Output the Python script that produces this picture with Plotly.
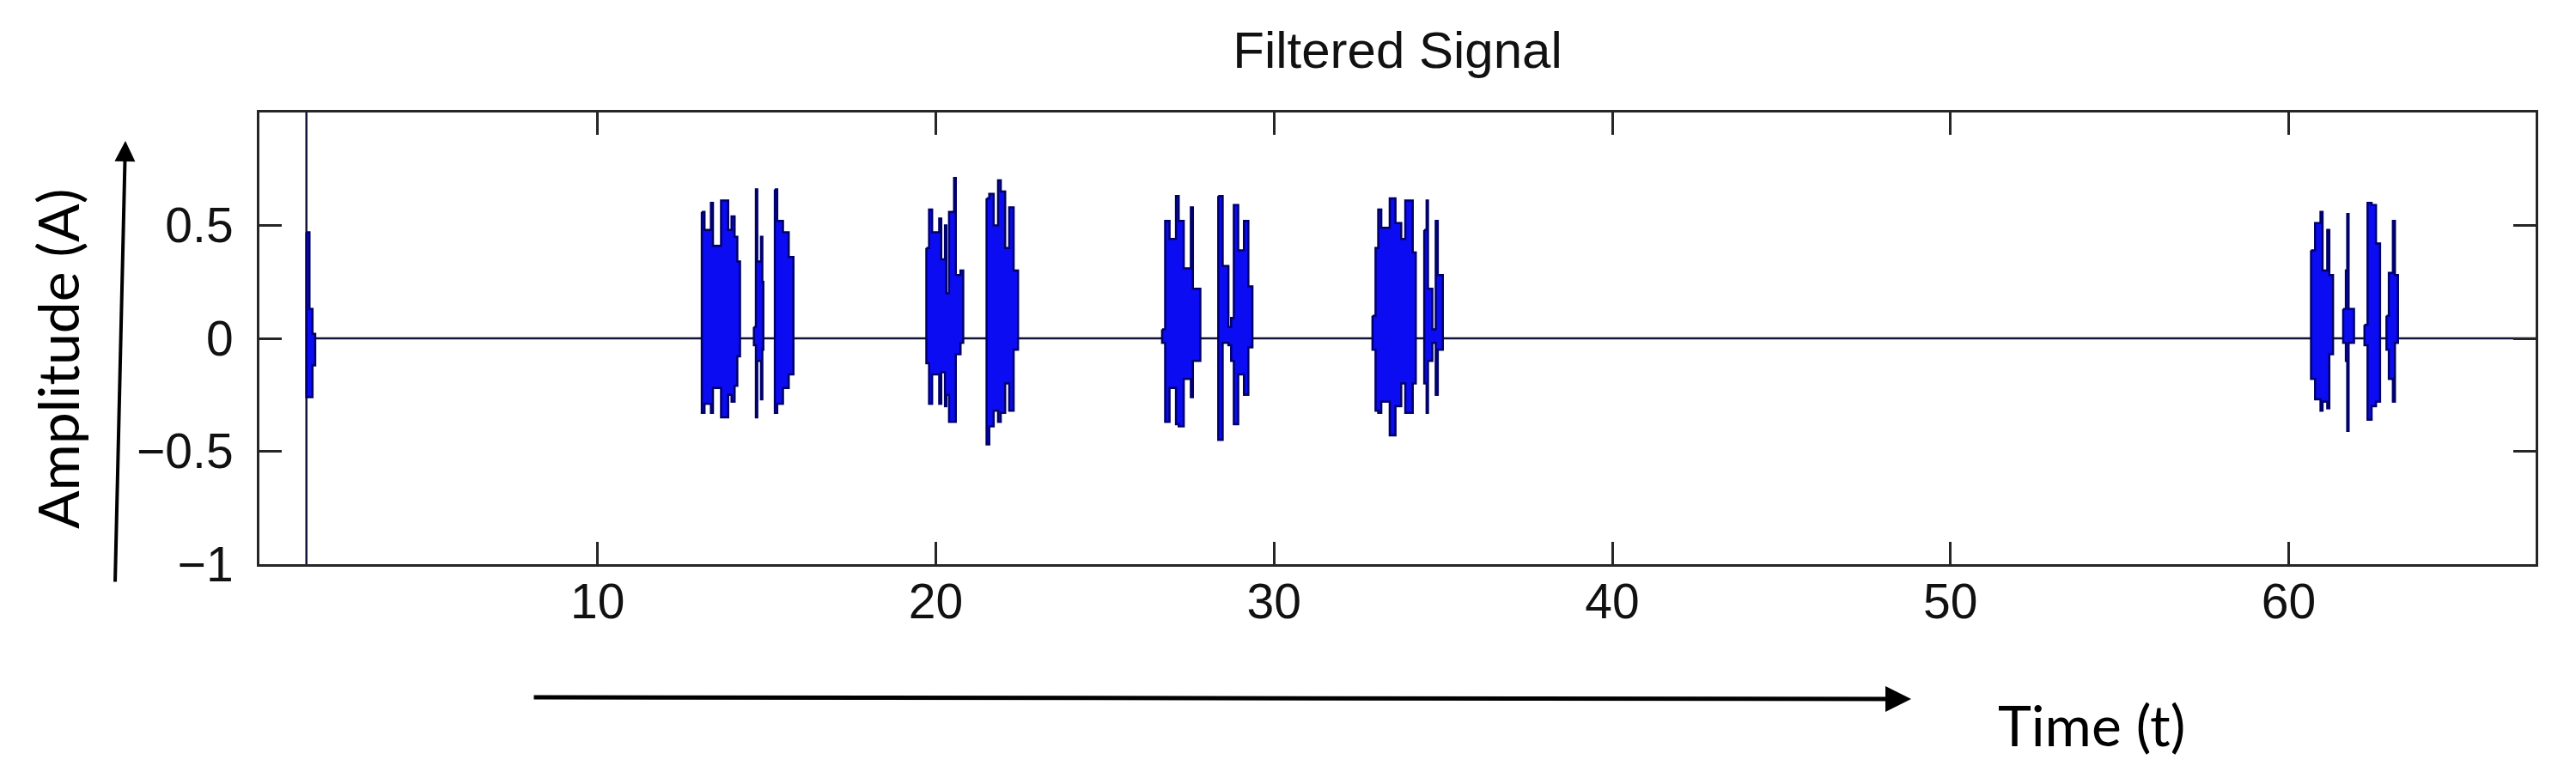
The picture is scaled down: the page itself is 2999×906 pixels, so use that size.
"""Filtered signal: bursts of a band-pass filtered recording"""
import plotly.graph_objects as go

# signal start / end and the start-up transient
t_start = 1.39
t_end = 67.3
transient_min = -1.0
transient_max = 1.0

# each burst: column edges (time), upper and lower envelope per column
bursts = {
    "P":  ([1.39, 1.48, 1.57, 1.65],
           [0.47, 0.13, 0.02],
           [-0.26, -0.26, -0.12]),
    "A1": ([13.08, 13.16, 13.35, 13.41, 13.65, 13.86, 13.96, 14.05, 14.13, 14.21],
           [0.56, 0.48, 0.60, 0.41, 0.61, 0.48, 0.54, 0.45, 0.34],
           [-0.33, -0.29, -0.33, -0.22, -0.35, -0.25, -0.28, -0.21, -0.08]),
    "A2": ([14.62, 14.68, 14.72, 14.83, 14.87, 14.90],
           [0.05, 0.66, 0.34, 0.45, 0.25],
           [-0.03, -0.35, -0.10, -0.27, -0.05]),
    "A3": ([15.24, 15.31, 15.48, 15.65, 15.79],
           [0.66, 0.52, 0.47, 0.36],
           [-0.33, -0.29, -0.22, -0.16]),
    "B1": ([19.72, 19.80, 19.89, 20.10, 20.16, 20.27, 20.31, 20.39, 20.54, 20.59, 20.73, 20.81],
           [0.40, 0.57, 0.47, 0.53, 0.35, 0.50, 0.20, 0.56, 0.71, 0.28, 0.30],
           [-0.11, -0.29, -0.16, -0.29, -0.15, -0.30, -0.25, -0.37, -0.37, -0.07, -0.02]),
    "B2": ([21.50, 21.58, 21.71, 21.84, 21.92, 22.05, 22.17, 22.30, 22.43],
           [0.62, 0.64, 0.50, 0.70, 0.65, 0.40, 0.58, 0.30],
           [-0.47, -0.39, -0.32, -0.37, -0.33, -0.20, -0.32, -0.05]),
    "C1": ([26.69, 26.78, 26.91, 27.10, 27.18, 27.33, 27.54, 27.60, 27.82],
           [0.04, 0.52, 0.44, 0.63, 0.52, 0.31, 0.58, 0.22],
           [-0.02, -0.37, -0.22, -0.38, -0.39, -0.18, -0.26, -0.10]),
    "C2": ([28.35, 28.48, 28.65, 28.73, 28.81, 28.94, 29.11, 29.24, 29.36],
           [0.63, 0.32, 0.05, 0.09, 0.59, 0.39, 0.52, 0.23],
           [-0.45, -0.02, -0.03, -0.10, -0.38, -0.16, -0.25, -0.04]),
    "D1": ([32.91, 33.00, 33.08, 33.17, 33.42, 33.59, 33.76, 33.88, 34.10, 34.19],
           [0.10, 0.40, 0.57, 0.49, 0.62, 0.51, 0.44, 0.61, 0.38],
           [-0.05, -0.32, -0.33, -0.28, -0.43, -0.30, -0.20, -0.33, -0.20]),
    "D2": ([34.44, 34.51, 34.55, 34.68, 34.78, 34.84, 34.99],
           [0.48, 0.61, 0.22, 0.04, 0.52, 0.28],
           [-0.20, -0.33, -0.10, -0.02, -0.25, -0.05]),
    "E1": ([60.66, 60.78, 60.94, 61.00, 61.14, 61.20, 61.31],
           [0.39, 0.51, 0.56, 0.30, 0.48, 0.28],
           [-0.18, -0.27, -0.32, -0.28, -0.31, -0.07]),
    "E2": ([61.61, 61.69, 61.73, 61.77, 61.93],
           [0.13, 0.30, 0.55, 0.13],
           [-0.02, -0.10, -0.41, -0.02]),
    "E3": ([62.24, 62.33, 62.45, 62.58, 62.70],
           [0.06, 0.60, 0.59, 0.42],
           [-0.03, -0.36, -0.30, -0.28]),
    "E4": ([62.89, 62.96, 63.08, 63.14, 63.23],
           [0.10, 0.29, 0.52, 0.28],
           [-0.05, -0.18, -0.28, -0.02]),
}

x_ticks = [10, 20, 30, 40, 50, 60]
y_ticks = [-1, -0.5, 0, 0.5]
y_tick_text = ["\u22121", "\u22120.5", "0", "0.5"]

LINE_DARK = "#14143a"
FILL_BLUE = "#0c0cf2"
OUTLINE = "#00006a"

W, H = 2999, 906
L, R, T, B = 294, 55, 123, 257


def px(x):
    return (x - L) / (W - L - R)


def py(y):
    return (H - B - y) / (H - T - B)


fig = go.Figure()

# baseline with start-up transient
fig.add_trace(go.Scatter(
    x=[t_start, t_start, t_start, t_end],
    y=[transient_min, transient_max, 0, 0],
    mode="lines",
    line=dict(color=LINE_DARK, width=2.5),
    hoverinfo="skip",
    showlegend=False,
))

# bursts drawn as stepped envelopes
for name, (edges, hi, lo) in bursts.items():
    xs, ys = [], []
    for i in range(len(hi)):
        xs += [edges[i], edges[i + 1]]
        ys += [hi[i], hi[i]]
    for i in reversed(range(len(lo))):
        xs += [edges[i + 1], edges[i]]
        ys += [lo[i], lo[i]]
    fig.add_trace(go.Scatter(
        x=xs + [xs[0]], y=ys + [ys[0]],
        mode="lines",
        fill="toself",
        fillcolor=FILL_BLUE,
        line=dict(color=OUTLINE, width=2.5),
        name=name,
        hoverinfo="skip",
        showlegend=False,
    ))

axis_common = dict(
    showline=True, linecolor="#262626", linewidth=3,
    mirror="ticks", ticks="inside", ticklen=26, tickwidth=3,
    tickcolor="#262626", showgrid=False, zeroline=False,
    tickfont=dict(family="Liberation Sans, Arial", size=57, color="#111111"),
)

fig.update_xaxes(range=[0, t_end], tickvals=x_ticks, ticklabelstandoff=-8,
                 **axis_common)
fig.update_yaxes(range=[-1, 1], tickvals=y_ticks, ticktext=y_tick_text,
                 ticklabelstandoff=16, **axis_common)

label_font = dict(family="Lato, Open Sans, sans-serif", size=66, color="#000000")

fig.update_layout(
    width=W, height=H,
    margin=dict(l=L, r=R, t=T, b=B),
    plot_bgcolor="white", paper_bgcolor="white",
    title=dict(text="Filtered Signal", x=0.5, xref="paper", xanchor="center",
               y=1 - 50 / H, yref="container", yanchor="middle",
               font=dict(family="Liberation Sans, Arial", size=60, color="#111111")),
    annotations=[
        dict(text="Amplitude (A)", textangle=-90, xref="paper", yref="paper",
             x=px(58), y=py(410), xanchor="center", yanchor="middle",
             showarrow=False, font=label_font),
        dict(text="Time (t)", xref="paper", yref="paper",
             x=px(2427), y=py(836), xanchor="center", yanchor="middle",
             showarrow=False, font=label_font),
        # vertical arrow next to the amplitude label
        dict(text="", xref="paper", yref="paper", x=px(138), y=py(156),
             ax=-12, ay=515, showarrow=True, arrowhead=2, arrowsize=1.2,
             arrowwidth=4, arrowcolor="#000000"),
        # horizontal arrow above the time label
        dict(text="", xref="paper", yref="paper", x=px(2217), y=py(806),
             ax=-1605, ay=-2, showarrow=True, arrowhead=2, arrowsize=1.2,
             arrowwidth=5, arrowcolor="#000000"),
    ],
)

fig.write_html("out.html")
